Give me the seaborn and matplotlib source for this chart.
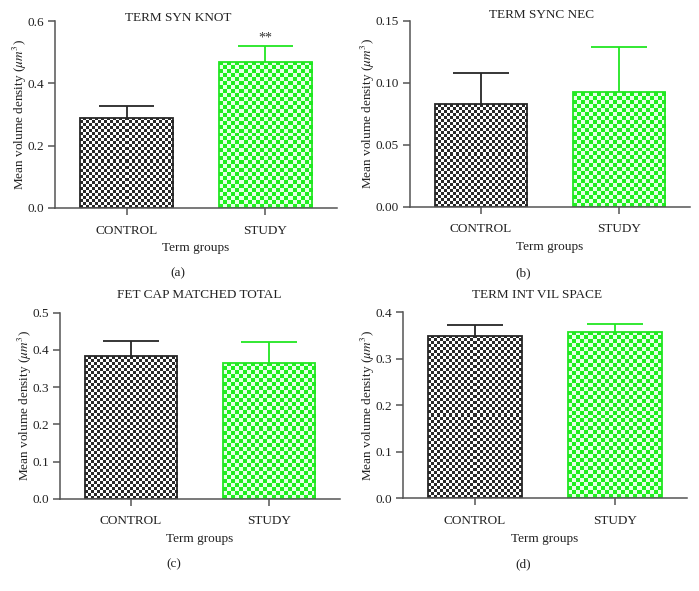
import numpy as np
import pandas as pd
import matplotlib
matplotlib.use("Agg")
import matplotlib.pyplot as plt
import seaborn as sns

sns.set_theme(style="ticks")
plt.rcParams['font.family'] = ['Liberation Serif', 'DejaVu Serif']
plt.rcParams['mathtext.fontset'] = 'stix'

# ---- data ----
groups = ["CONTROL", "STUDY"]
titles = ["TERM SYN KNOT", "TERM SYNC NEC", "FET CAP MATCHED TOTAL", "TERM INT VIL SPACE"]
panel_labels = ["(a)", "(b)", "(c)", "(d)"]
means_a = [0.290, 0.469]
err_a = [0.036, 0.051]
means_b = [0.0825, 0.0923]
err_b = [0.0253, 0.0368]
means_c = [0.384, 0.366]
err_c = [0.041, 0.055]
means_d = [0.349, 0.357]
err_d = [0.024, 0.018]
ylims = [0.6, 0.15, 0.5, 0.4]
ysteps = [0.2, 0.05, 0.1, 0.1]
yfmts = ["{:.1f}", "{:.2f}", "{:.1f}", "{:.1f}"]
signif = ["", "**"]  # panel (a) annotation

means_all = [means_a, means_b, means_c, means_d]
errs_all = [err_a, err_b, err_c, err_d]

edge_colors = ["#262626", "#22e622"]
dark_cols = ["#2a2a2a", "#1fef1f"]
light_cols = ["#ffffff", "#e8ffe8"]
cell_px = [3.0, 4.0]

W, H = 699, 591
fig = plt.figure(figsize=(W / 100, H / 100), dpi=100)

# axes rects in pixels: left, right, top, bottom
rects = [(55, 337, 21, 208), (410, 690, 20.7, 206.7),
         (60, 340, 312.7, 498.7), (403, 687, 312.3, 498.3)]
title_pos = [(178, 18), (542, 15), (199, 295), (537, 295)]
lab_pos = [(178, 273), (523, 273), (174, 564), (523, 564)]

for i in range(4):
    l, r, t, b = rects[i]
    ax = fig.add_axes([l / W, 1 - b / H, (r - l) / W, (b - t) / H])
    df = pd.DataFrame({"group": groups, "mean": means_all[i]})
    sns.barplot(data=df, x="group", y="mean", ax=ax, width=0.67,
                errorbar=None, color="white", saturation=1)
    ax.set_xlim(-0.515, 1.515)
    ax.set_ylim(0, ylims[i])
    ticks = np.arange(0, ylims[i] + 1e-9, ysteps[i])
    ax.set_yticks(ticks)
    ax.set_yticklabels([yfmts[i].format(v) for v in ticks])

    # checkerboard fill clipped to each bar
    for j, p in enumerate(ax.patches):
        x0, y0 = p.get_x(), p.get_y()
        w, h = p.get_width(), p.get_height()
        d0 = ax.transData.transform((x0, y0))
        d1 = ax.transData.transform((x0 + w, y0 + h))
        nx = max(1, int(round(abs(d1[0] - d0[0]) / cell_px[j])))
        ny = max(1, int(round(abs(d1[1] - d0[1]) / cell_px[j])))
        yy, xx = np.mgrid[0:ny, 0:nx]
        chk = ((xx + yy) % 2).astype(float)
        cmap = matplotlib.colors.ListedColormap([dark_cols[j], light_cols[j]])
        im = ax.imshow(chk, extent=(x0, x0 + w, y0, y0 + h), origin="lower",
                       cmap=cmap, vmin=0, vmax=1, interpolation="nearest",
                       aspect="auto", zorder=1.5)
        im.set_clip_path(p)
        p.set_facecolor("none")
        p.set_edgecolor(edge_colors[j])
        p.set_linewidth(1.3)
        p.set_zorder(2)
        # one-sided error bar
        cx = x0 + w / 2
        top = means_all[i][j] + errs_all[i][j]
        ax.vlines(cx, means_all[i][j], top, color=edge_colors[j], lw=1.3, zorder=3)
        ax.hlines(top, cx - 0.2, cx + 0.2, color=edge_colors[j], lw=1.3, zorder=3)
        if i == 0 and signif[j]:
            ax.text(cx, top + ylims[i] * 0.04, signif[j], ha="center", va="center",
                    fontsize=10, color="#333333")
    ax.set_aspect("auto")
    ax.set_xlim(-0.515, 1.515)
    ax.set_ylim(0, ylims[i])

    sns.despine(ax=ax)
    for s in ["left", "bottom"]:
        ax.spines[s].set_color("#555555")
        ax.spines[s].set_linewidth(1.1)
    ax.tick_params(axis="both", direction="out", length=5, width=1.1,
                   color="#555555", labelsize=9.5, labelcolor="#222222", pad=3)
    ax.tick_params(axis="x", pad=7)
    ax.set_xlabel("Term groups", fontsize=9.5, color="#222222", labelpad=4)
    ax.set_ylabel(r"Mean volume density ($\mu m^3$)", fontsize=9.5, color="#222222",
                  labelpad=-1)
    ax.set_facecolor("white")
    fig.text(title_pos[i][0] / W, 1 - title_pos[i][1] / H, titles[i], ha="center",
             va="center", fontsize=9.5, color="#222222")
    fig.text(lab_pos[i][0] / W, 1 - lab_pos[i][1] / H, panel_labels[i], ha="center",
             va="center", fontsize=9.5, color="#222222")

fig.patch.set_facecolor("white")
fig.savefig("out.png", dpi=100, facecolor="white")
